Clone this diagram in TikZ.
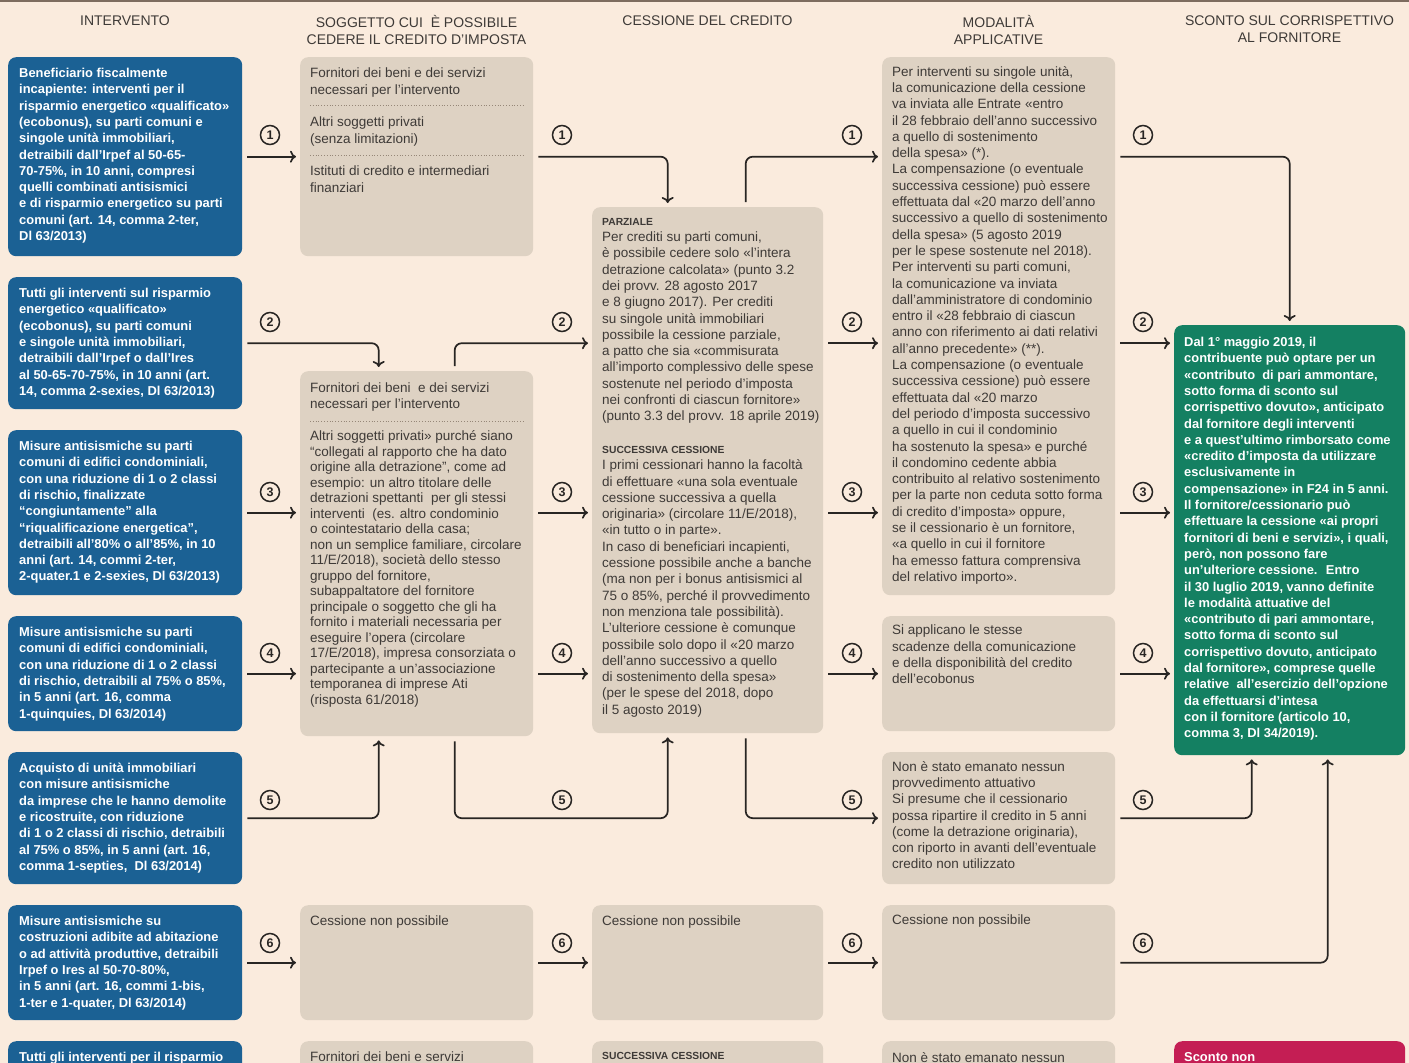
\documentclass[tikz,border=0pt]{standalone}
\usepackage{fontspec}
\setmainfont{Liberation Sans}
\usepackage{tikz}
\usetikzlibrary{arrows.meta, positioning, calc}
\definecolor{mypeach}{RGB}{250,235,221}
\definecolor{myblue}{RGB}{27,97,148}
\definecolor{mygreen}{RGB}{20,128,98}
\definecolor{myred}{RGB}{196,30,84}
\definecolor{mysand}{RGB}{222,210,195}
\definecolor{mydark}{RGB}{40,37,35}
\definecolor{mytext}{RGB}{62,58,55}
\definecolor{myrule}{RGB}{125,108,95}
\definecolor{mydots}{RGB}{150,135,120}
\tikzset{
  bluebox/.style={rectangle, fill=myblue, rounded corners=8pt, anchor=north west,
    inner sep=0pt, minimum width=234pt},
  sandbox/.style={rectangle, fill=mysand, rounded corners=8pt, anchor=north west,
    inner sep=0pt, minimum width=233pt},
  greenbox/.style={rectangle, fill=mygreen, rounded corners=8pt, anchor=north west,
    inner sep=0pt, minimum width=231pt},
  redbox/.style={rectangle, fill=myred, rounded corners=8pt, anchor=north west,
    inner sep=0pt, minimum width=231pt},
  bodytext/.style={anchor=north west, align=left, inner sep=0pt, text=mytext,
    font=\fontsize{13.5}{16.3}\selectfont},
  boldtext/.style={anchor=north west, align=left, inner sep=0pt, text=white,
    font=\fontsize{12.9}{16.3}\selectfont\bfseries},
  hdr/.style={anchor=north, align=center, inner sep=0pt, text=mytext,
    font=\fontsize{14}{17}\selectfont},
  num/.style={circle, draw=mydark, line width=1.5pt, inner sep=0pt, minimum size=19pt,
    font=\fontsize{12.5}{12.5}\selectfont\bfseries, text=mydark},
  arrow/.style={-{To[length=6pt,width=12pt]}, line width=1.7pt, color=mydark,
    shorten <=5pt, shorten >=4pt, rounded corners=7pt},
  dotsep/.style={dotted, line width=0.8pt, color=mydots}
}
\newcommand{\subhead}[1]{{\fontsize{10.3}{16.3}\selectfont\bfseries #1}}

\begin{document}
\begin{tikzpicture}[x=1pt, y=-1pt]
  \useasboundingbox (0,0) rectangle (1409,1063);
  \clip (0,0) rectangle (1409,1063);
  \fill[mypeach] (0,0) rectangle (1409,1063);
  \draw[myrule, line width=2pt] (0,1) -- (1409,1);

  % ── headers ────────────────────────────────────────────────────────────
  \node[hdr] (h1) at (125,15.5) {INTERVENTO};
  \node[hdr] (h2) at (416.5,15.5) {SOGGETTO CUI \ È POSSIBILE\\CEDERE IL CREDITO D'IMPOSTA};
  \node[hdr] (h3) at (707.5,15.5) {CESSIONE DEL CREDITO};
  \node[hdr] (h4) at (998.5,15.5) {MODALITÀ\\APPLICATIVE};
  \node[hdr] (h5) at (1289.5,15.5) {SCONTO SUL CORRISPETTIVO\\AL FORNITORE};

  % ── intervento (blue) ──────────────────────────────────────────────────
  \node[bluebox, minimum height=199pt] (b1) at (8,57) {};
  \node[boldtext] (tb1) at ([xshift=11pt,yshift=-11pt]b1.north west)
    {Beneficiario fiscalmente\\incapiente: interventi per il\\risparmio energetico «qualificato»\\(ecobonus), su parti comuni e\\singole unità immobiliari,\\detraibili dall'Irpef al 50-65-\\70-75\%, in 10 anni, compresi\\quelli combinati antisismici\\e di risparmio energetico su parti\\comuni (art. 14, comma 2-ter,\\Dl 63/2013)};
  \node[bluebox, minimum height=132pt] (b2) at (8,277) {};
  \node[boldtext] (tb2) at ([xshift=11pt,yshift=-11pt]b2.north west)
    {Tutti gli interventi sul risparmio\\energetico «qualificato»\\(ecobonus), su parti comuni\\e singole unità immobiliari,\\detraibili dall'Irpef o dall'Ires\\al 50-65-70-75\%, in 10 anni (art.\\14, comma 2-sexies, Dl 63/2013)};
  \node[bluebox, minimum height=165pt] (b3) at (8,430) {};
  \node[boldtext] (tb3) at ([xshift=11pt,yshift=-11pt]b3.north west)
    {Misure antisismiche su parti\\comuni di edifici condominiali,\\con una riduzione di 1 o 2 classi\\di rischio, finalizzate\\``congiuntamente'' alla\\``riqualificazione energetica'',\\detraibili all'80\% o all'85\%, in 10\\anni (art. 14, commi 2-ter,\\2-quater.1 e 2-sexies, Dl 63/2013)};
  \node[bluebox, minimum height=115pt] (b4) at (8,616) {};
  \node[boldtext] (tb4) at ([xshift=11pt,yshift=-11pt]b4.north west)
    {Misure antisismiche su parti\\comuni di edifici condominiali,\\con una riduzione di 1 o 2 classi\\di rischio, detraibili al 75\% o 85\%,\\in 5 anni (art. 16, comma\\1-quinquies, Dl 63/2014)};
  \node[bluebox, minimum height=132pt] (b5) at (8,752) {};
  \node[boldtext] (tb5) at ([xshift=11pt,yshift=-11pt]b5.north west)
    {Acquisto di unità immobiliari\\con misure antisismiche\\da imprese che le hanno demolite\\e ricostruite, con riduzione\\di 1 o 2 classi di rischio, detraibili\\al 75\% o 85\%, in 5 anni (art. 16,\\comma 1-septies, \ Dl 63/2014)};
  \node[bluebox, minimum height=115pt] (b6) at (8,905) {};
  \node[boldtext] (tb6) at ([xshift=11pt,yshift=-11pt]b6.north west)
    {Misure antisismiche su\\costruzioni adibite ad abitazione\\o ad attività produttive, detraibili\\Irpef o Ires al 50-70-80\%,\\in 5 anni (art. 16, commi 1-bis,\\1-ter e 1-quater, Dl 63/2014)};
  \node[bluebox, minimum height=100pt] (b7) at (8,1041) {};
  \node[boldtext] (tb7) at ([xshift=11pt,yshift=-11pt]b7.north west)
    {Tutti gli interventi per il risparmio};

  % ── soggetto (sand) ────────────────────────────────────────────────────
  \node[sandbox, minimum height=199pt] (g1) at (300,57) {};
  \node[bodytext] (tg1) at ([xshift=10pt,yshift=-11pt]g1.north west)
    {Fornitori dei beni e dei servizi\\necessari per l'intervento\\[16.3pt]Altri soggetti privati\\(senza limitazioni)\\[16.3pt]Istituti di credito e intermediari\\finanziari};
  \draw[dotsep] ([xshift=10pt,yshift=-48pt]g1.north west) -- ([xshift=-10pt,yshift=-48pt]g1.north east);
  \draw[dotsep] ([xshift=10pt,yshift=-98pt]g1.north west) -- ([xshift=-10pt,yshift=-98pt]g1.north east);
  \node[sandbox, minimum height=365pt] (g2) at (300,371) {};
  \node[bodytext, font=\fontsize{13.5}{15.5}\selectfont] (tg2) at ([xshift=10pt,yshift=-12pt]g2.north west)
    {Fornitori dei beni \ e dei servizi\\necessari per l'intervento\\[17pt]Altri soggetti privati» purché siano\\``collegati al rapporto che ha dato\\origine alla detrazione'', come ad\\esempio: un altro titolare delle\\detrazioni spettanti \ per gli stessi\\interventi \ (es. altro condominio\\o cointestatario della casa;\\non un semplice familiare, circolare\\11/E/2018), società dello stesso\\gruppo del fornitore,\\subappaltatore del fornitore\\principale o soggetto che gli ha\\fornito i materiali necessaria per\\eseguire l'opera (circolare\\17/E/2018), impresa consorziata o\\partecipante a un'associazione\\temporanea di imprese Ati\\(risposta 61/2018)};
  \draw[dotsep] ([xshift=10pt,yshift=-50pt]g2.north west) -- ([xshift=-10pt,yshift=-50pt]g2.north east);
  \node[sandbox, minimum height=115pt] (g6) at (300,905) {};
  \node[bodytext] (tg6) at ([xshift=10pt,yshift=-11pt]g6.north west) {Cessione non possibile};
  \node[sandbox, minimum height=100pt] (g7) at (300,1041) {};
  \node[bodytext] (tg7) at ([xshift=10pt,yshift=-11pt]g7.north west) {Fornitori dei beni e servizi};

  % ── cessione (sand) ────────────────────────────────────────────────────
  \node[sandbox, minimum width=231pt, minimum height=526pt] (c1) at (592,207) {};
  \node[bodytext] (tc1) at ([xshift=10pt,yshift=-11pt]c1.north west)
    {\subhead{PARZIALE}\\Per crediti su parti comuni,\\è possibile cedere solo «l'intera\\detrazione calcolata» (punto 3.2\\dei provv. 28 agosto 2017\\e 8 giugno 2017). Per crediti\\su singole unità immobiliari\\possibile la cessione parziale,\\a patto che sia «commisurata\\all'importo complessivo delle spese\\sostenute nel periodo d'imposta\\nei confronti di ciascun fornitore»\\(punto 3.3 del provv. 18 aprile 2019)\\[16.3pt]\subhead{SUCCESSIVA CESSIONE}\\I primi cessionari hanno la facoltà\\di effettuare «una sola eventuale\\cessione successiva a quella\\originaria» (circolare 11/E/2018),\\«in tutto o in parte».\\In caso di beneficiari incapienti,\\cessione possibile anche a banche\\(ma non per i bonus antisismici al\\75 o 85\%, perché il provvedimento\\non menziona tale possibilità).\\L'ulteriore cessione è comunque\\possibile solo dopo il «20 marzo\\dell'anno successivo a quello\\di sostenimento della spesa»\\(per le spese del 2018, dopo\\il 5 agosto 2019)};
  \node[sandbox, minimum width=231pt, minimum height=115pt] (c6) at (592,905) {};
  \node[bodytext] (tc6) at ([xshift=10pt,yshift=-11pt]c6.north west) {Cessione non possibile};
  \node[sandbox, minimum width=231pt, minimum height=100pt] (c7) at (592,1041) {};
  \node[bodytext] (tc7) at ([xshift=10pt,yshift=-11pt]c7.north west) {\subhead{SUCCESSIVA CESSIONE}};

  % ── modalita (sand) ────────────────────────────────────────────────────
  \node[sandbox, minimum height=538pt] (d1) at (882,57) {};
  \node[bodytext] (td1) at ([xshift=10pt,yshift=-9pt]d1.north west)
    {Per interventi su singole unità,\\la comunicazione della cessione\\va inviata alle Entrate «entro\\il 28 febbraio dell'anno successivo\\a quello di sostenimento\\della spesa» (*).\\La compensazione (o eventuale\\successiva cessione) può essere\\effettuata dal «20 marzo dell'anno\\successivo a quello di sostenimento\\della spesa» (5 agosto 2019\\per le spese sostenute nel 2018).\\Per interventi su parti comuni,\\la comunicazione va inviata\\dall'amministratore di condominio\\entro il «28 febbraio di ciascun\\anno con riferimento ai dati relativi\\all'anno precedente» (**).\\La compensazione (o eventuale\\successiva cessione) può essere\\effettuata dal «20 marzo\\del periodo d'imposta successivo\\a quello in cui il condominio\\ha sostenuto la spesa» e purché\\il condomino cedente abbia\\contribuito al relativo sostenimento\\per la parte non ceduta sotto forma\\di credito d'imposta» oppure,\\se il cessionario è un fornitore,\\«a quello in cui il fornitore\\ha emesso fattura comprensiva\\del relativo importo».};
  \node[sandbox, minimum height=115pt] (d4) at (882,616) {};
  \node[bodytext] (td4) at ([xshift=10pt,yshift=-9pt]d4.north west)
    {Si applicano le stesse\\scadenze della comunicazione\\e della disponibilità del credito\\dell'ecobonus};
  \node[sandbox, minimum height=132pt] (d5) at (882,752) {};
  \node[bodytext] (td5) at ([xshift=10pt,yshift=-9pt]d5.north west)
    {Non è stato emanato nessun\\provvedimento attuativo\\Si presume che il cessionario\\possa ripartire il credito in 5 anni\\(come la detrazione originaria),\\con riporto in avanti dell'eventuale\\credito non utilizzato};
  \node[sandbox, minimum height=115pt] (d6) at (882,905) {};
  \node[bodytext] (td6) at ([xshift=10pt,yshift=-10pt]d6.north west) {Cessione non possibile};
  \node[sandbox, minimum height=100pt] (d7) at (882,1041) {};
  \node[bodytext] (td7) at ([xshift=10pt,yshift=-11pt]d7.north west) {Non è stato emanato nessun};

  % ── sconto (green / red) ───────────────────────────────────────────────
  \node[greenbox, minimum height=430pt] (e1) at (1174,325) {};
  \node[boldtext] (te1) at ([xshift=10pt,yshift=-12pt]e1.north west)
    {Dal 1° maggio 2019, il\\contribuente può optare per un\\«contributo \ di pari ammontare,\\sotto forma di sconto sul\\corrispettivo dovuto», anticipato\\dal fornitore degli interventi\\e a quest'ultimo rimborsato come\\«credito d'imposta da utilizzare\\esclusivamente in\\compensazione» in F24 in 5 anni.\\Il fornitore/cessionario può\\effettuare la cessione «ai propri\\fornitori di beni e servizi», i quali,\\però, non possono fare\\un'ulteriore cessione. \ Entro\\il 30 luglio 2019, vanno definite\\le modalità attuative del\\«contributo di pari ammontare,\\sotto forma di sconto sul\\corrispettivo dovuto, anticipato\\dal fornitore», comprese quelle\\relative \ all'esercizio dell'opzione\\da effettuarsi d'intesa\\con il fornitore (articolo 10,\\comma 3, Dl 34/2019).};
  \node[redbox, minimum height=100pt] (e7) at (1174,1041) {};
  \node[boldtext] (te7) at ([xshift=10pt,yshift=-11pt]e7.north west) {Sconto non};

  % ── connectors ─────────────────────────────────────────────────────────
  % row 1
  \draw[arrow] (b1.east) -- (g1.west |- b1.east);
  \draw[arrow] (g1.east) -| ([xshift=-40pt]c1.north);
  \draw[arrow] ([xshift=38pt]c1.north) |- (d1.west |- b1.east);
  \draw[arrow] (d1.east |- b1.east) -| (e1.north);
  % row 2
  \draw[arrow] (b2.east) -| ([xshift=-38pt]g2.north);
  \draw[arrow] ([xshift=38pt]g2.north) |- (c1.west |- b2.east);
  \draw[arrow] (c1.east |- b2.east) -- (d1.west |- b2.east);
  \draw[arrow] (d1.east |- b2.east) -- (e1.west |- b2.east);
  % rows 3 and 4
  \foreach \r in {3,4} {
    \draw[arrow] (b\r.east) -- (g2.west |- b\r.east);
    \draw[arrow] (g2.east |- b\r.east) -- (c1.west |- b\r.east);
  }
  \draw[arrow] (c1.east |- b3.east) -- (d1.west |- b3.east);
  \draw[arrow] (d1.east |- b3.east) -- (e1.west |- b3.east);
  \draw[arrow] (c1.east |- b4.east) -- (d4.west);
  \draw[arrow] (d4.east) -- (e1.west |- d4.east);
  % row 5
  \draw[arrow] (b5.east) -| ([xshift=-38pt]g2.south);
  \draw[arrow] ([xshift=38pt]g2.south) |- ([xshift=-40pt]c1.south |- b5.east) -- ([xshift=-40pt]c1.south);
  \draw[arrow] ([xshift=38pt]c1.south) |- (d5.west);
  \draw[arrow] (d5.east) -| ([xshift=-38pt]e1.south);
  % row 6
  \draw[arrow] (b6.east) -- (g6.west);
  \draw[arrow] (g6.east) -- (c6.west);
  \draw[arrow] (c6.east) -- (d6.west);
  \draw[arrow] (d6.east) -| ([xshift=38pt]e1.south);

  % circled row numbers
  \foreach \r/\y in {1/135, 2/322, 3/492, 4/653, 5/800, 6/943}
    \foreach \x [count=\c] in {270, 562, 852, 1143}
      \node[num] (n\r\c) at (\x,\y) {\r};
\end{tikzpicture}
\end{document}
